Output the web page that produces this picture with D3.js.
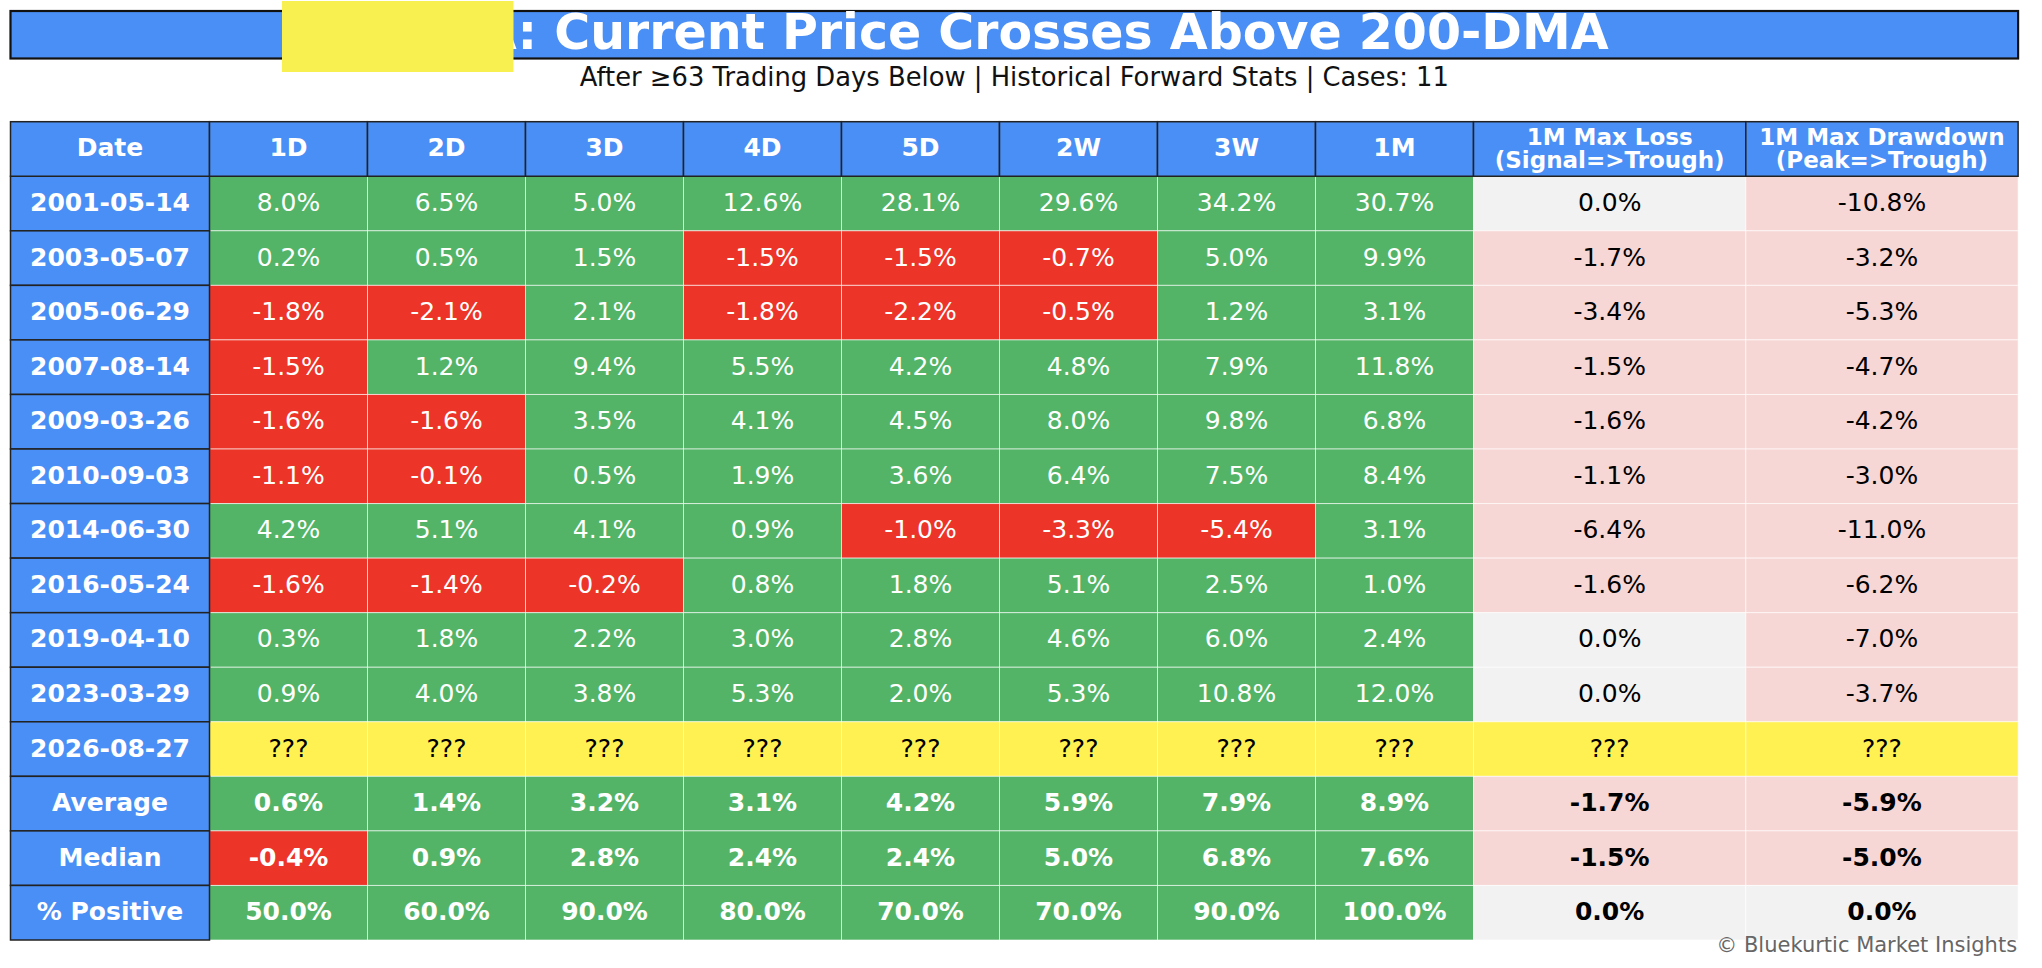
<!DOCTYPE html>
<html>
<head>
<meta charset="utf-8">
<script src="https://cdn.jsdelivr.net/npm/d3@7"></script>
<style>
  body { margin: 0; background: #fff; }
  text { font-family: "DejaVu Sans", sans-serif; }
</style>
</head>
<body>
<div id="table"></div>
<script>
// data
const columns = ["1D", "2D", "3D", "4D", "5D", "2W", "3W", "1M"];
const lossColumns = [["1M Max Loss", "(Signal=>Trough)"], ["1M Max Drawdown", "(Peak=>Trough)"]];

const dates = ["2001-05-14", "2003-05-07", "2005-06-29", "2007-08-14", "2009-03-26",
  "2010-09-03", "2014-06-30", "2016-05-24", "2019-04-10", "2023-03-29"];

const returns = [
  [8.0, 6.5, 5.0, 12.6, 28.1, 29.6, 34.2, 30.7],
  [0.2, 0.5, 1.5, -1.5, -1.5, -0.7, 5.0, 9.9],
  [-1.8, -2.1, 2.1, -1.8, -2.2, -0.5, 1.2, 3.1],
  [-1.5, 1.2, 9.4, 5.5, 4.2, 4.8, 7.9, 11.8],
  [-1.6, -1.6, 3.5, 4.1, 4.5, 8.0, 9.8, 6.8],
  [-1.1, -0.1, 0.5, 1.9, 3.6, 6.4, 7.5, 8.4],
  [4.2, 5.1, 4.1, 0.9, -1.0, -3.3, -5.4, 3.1],
  [-1.6, -1.4, -0.2, 0.8, 1.8, 5.1, 2.5, 1.0],
  [0.3, 1.8, 2.2, 3.0, 2.8, 4.6, 6.0, 2.4],
  [0.9, 4.0, 3.8, 5.3, 2.0, 5.3, 10.8, 12.0]
];
const maxLoss = [0.0, -1.7, -3.4, -1.5, -1.6, -1.1, -6.4, -1.6, 0.0, 0.0];
const maxDrawdown = [-10.8, -3.2, -5.3, -4.7, -4.2, -3.0, -11.0, -6.2, -7.0, -3.7];

const currentDate = "2026-08-27";

const summaryLabels = ["Average", "Median", "% Positive"];
const summaryReturns = [
  [0.6, 1.4, 3.2, 3.1, 4.2, 5.9, 7.9, 8.9],
  [-0.4, 0.9, 2.8, 2.4, 2.4, 5.0, 6.8, 7.6],
  [50.0, 60.0, 90.0, 80.0, 70.0, 70.0, 90.0, 100.0]
];
const summaryLoss = [-1.7, -1.5, 0.0];
const summaryDrawdown = [-5.9, -5.0, 0.0];

const titleText = "DIA: Current Price Crosses Above 200-DMA";
const subtitleText = "After \u226563 Trading Days Below | Historical Forward Stats | Cases: 11";
const credit = "\u00a9 Bluekurtic Market Insights";

// layout
const width = 2042, height = 968;
const tableLeft = 10.5, tableTop = 121.7, tableBottom = 940;
const dateW = 199, valueW = 158, lossW = 272.3;

const blue = "#4a8ff5", green = "#53b467", red = "#ec3428",
  yellow = "#fff152", pink = "#f7d7d6", grey = "#f2f2f2";

// build rows
const rows = dates.map((d, i) => ({
  label: d,
  cells: [...returns[i], maxLoss[i], maxDrawdown[i]],
  kind: "hist"
}));
rows.push({ label: currentDate, cells: d3.range(10).map(() => null), kind: "current" });
summaryLabels.forEach((s, i) => rows.push({
  label: s,
  cells: [...summaryReturns[i], summaryLoss[i], summaryDrawdown[i]],
  kind: "summary"
}));

const svg = d3.select("#table")
  .append("svg")
  .attr("width", width)
  .attr("height", height);

// column edges
const colWidths = [dateW, ...columns.map(() => valueW), lossW, lossW];
const colX = [tableLeft];
colWidths.forEach((w, i) => colX.push(colX[i] + w));
const tableRight = colX[colX.length - 1];
const centerX = (tableLeft + tableRight) / 2;

const yScale = d3.scaleBand()
  .domain(["header", ...rows.map(r => r.label)])
  .range([tableTop, tableBottom]);

const fmt = v => v.toFixed(1) + "%";

const cellFill = (v, j) => {
  if (v === null) return yellow;
  if (j < 8) return v >= 0 ? green : red;
  return v === 0 ? grey : pink;
};

// title bar
svg.append("rect")
  .attr("x", tableLeft)
  .attr("y", 11)
  .attr("width", tableRight - tableLeft)
  .attr("height", 47.5)
  .attr("fill", blue)
  .attr("stroke", "#111")
  .attr("stroke-width", 2.2);

svg.append("text")
  .attr("x", centerX)
  .attr("y", 48.5)
  .attr("text-anchor", "middle")
  .attr("font-size", 49)
  .attr("font-weight", "bold")
  .attr("fill", "#fff")
  .text(titleText);

// redaction box over the ticker
svg.append("rect")
  .attr("x", 282)
  .attr("y", 1)
  .attr("width", 231.5)
  .attr("height", 71)
  .attr("fill", "#f7f050");

svg.append("text")
  .attr("x", centerX)
  .attr("y", 86)
  .attr("text-anchor", "middle")
  .attr("font-size", 25.8)
  .attr("fill", "#111")
  .text(subtitleText);

// data cells
const body = svg.append("g");
rows.forEach(r => {
  const y = yScale(r.label);
  const h = yScale.bandwidth();
  r.cells.forEach((v, j) => {
    const x0 = colX[j + 1], x1 = colX[j + 2];
    body.append("rect")
      .attr("x", x0).attr("y", y)
      .attr("width", x1 - x0).attr("height", h)
      .attr("fill", cellFill(v, j))
      .attr("stroke", "#fff")
      .attr("stroke-opacity", 0.6)
      .attr("stroke-width", 1);
    body.append("text")
      .attr("x", (x0 + x1) / 2)
      .attr("y", y + h / 2)
      .attr("dy", "0.3em")
      .attr("text-anchor", "middle")
      .attr("font-size", 25)
      .attr("font-weight", r.kind === "summary" ? "bold" : "normal")
      .attr("fill", v === null || j >= 8 ? "#000" : "#fff")
      .text(v === null ? "???" : fmt(v));
  });
});

// date / label column
const labels = svg.append("g");
rows.forEach(r => {
  const y = yScale(r.label);
  const h = yScale.bandwidth();
  labels.append("rect")
    .attr("x", colX[0]).attr("y", y)
    .attr("width", dateW).attr("height", h)
    .attr("fill", blue)
    .attr("stroke", "#222")
    .attr("stroke-width", 1.5);
  labels.append("text")
    .attr("x", colX[0] + dateW / 2)
    .attr("y", y + h / 2)
    .attr("dy", "0.3em")
    .attr("text-anchor", "middle")
    .attr("font-size", 25)
    .attr("font-weight", "bold")
    .attr("fill", "#fff")
    .text(r.label);
});

// header row
const header = svg.append("g");
const headY = yScale("header"), headH = yScale.bandwidth();
const headLabels = [["Date"], ...columns.map(c => [c]), ...lossColumns];
headLabels.forEach((lines, j) => {
  const x0 = colX[j], x1 = colX[j + 1];
  header.append("rect")
    .attr("x", x0).attr("y", headY)
    .attr("width", x1 - x0).attr("height", headH)
    .attr("fill", blue)
    .attr("stroke", "#222")
    .attr("stroke-width", 1.5);
  if (lines.length === 1) {
    header.append("text")
      .attr("x", (x0 + x1) / 2)
      .attr("y", headY + headH / 2)
      .attr("dy", "0.3em")
      .attr("text-anchor", "middle")
      .attr("font-weight", "bold")
      .attr("fill", "#fff")
      .attr("font-size", 25)
      .text(lines[0]);
  } else {
    // two stacked lines, tight spacing as in the source
    lines.forEach((l, k) => {
      header.append("text")
        .attr("x", (x0 + x1) / 2)
        .attr("y", k === 0 ? 145 : 168)
        .attr("text-anchor", "middle")
        .attr("font-weight", "bold")
        .attr("fill", "#fff")
        .attr("font-size", 23)
        .text(l);
    });
  }
});

// credit
svg.append("text")
  .attr("x", tableRight - 1)
  .attr("y", 952)
  .attr("text-anchor", "end")
  .attr("font-size", 21)
  .attr("fill", "#666")
  .text(credit);
</script>
</body>
</html>
